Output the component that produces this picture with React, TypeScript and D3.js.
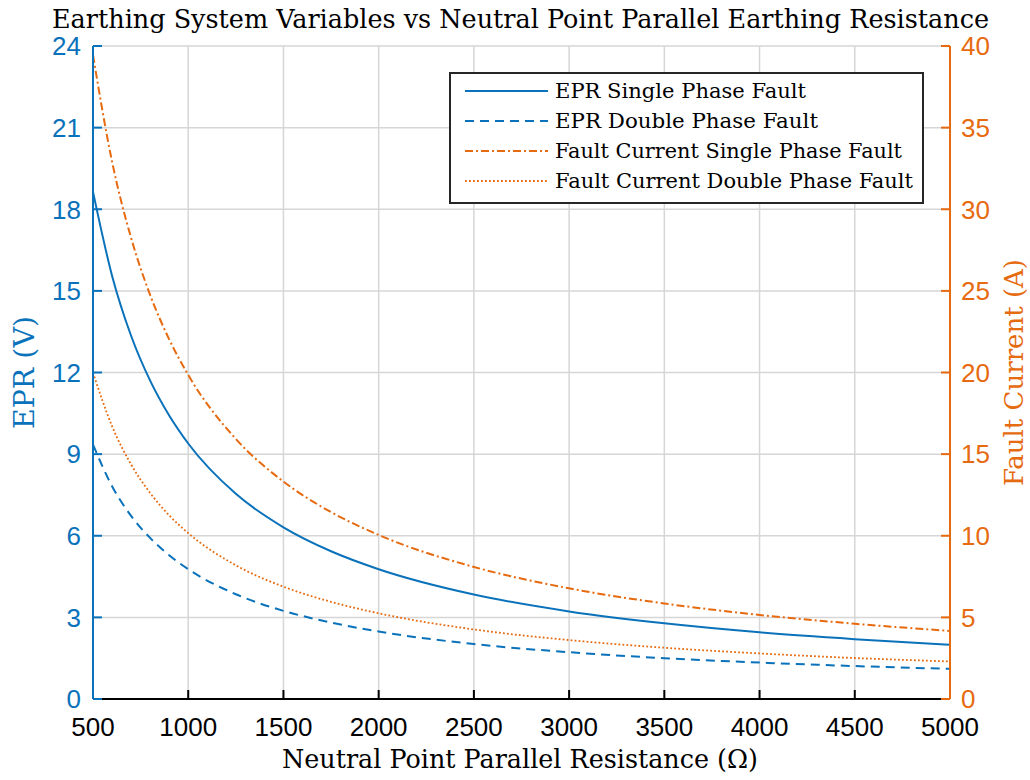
import React from "react";
import * as d3 from "d3";

const resistance = [500, 600, 700, 800, 900, 1000, 1250, 1500, 1750, 2000, 2500, 3000, 3500, 4000, 4500, 5000];
const eprSingle = [18.64, 15.56, 13.35, 11.7, 10.42, 9.39, 7.54, 6.31, 5.43, 4.77, 3.84, 3.22, 2.78, 2.45, 2.2, 1.99];
const eprDouble = [9.35, 7.82, 6.73, 5.92, 5.28, 4.77, 3.85, 3.24, 2.81, 2.48, 2.02, 1.72, 1.5, 1.34, 1.21, 1.11];
const currentSingle = [39.45, 32.92, 28.25, 24.75, 22.03, 19.85, 15.93, 13.32, 11.45, 10.05, 8.09, 6.78, 5.85, 5.15, 4.61, 4.17];
const currentDouble = [19.99, 16.71, 14.37, 12.62, 11.25, 10.16, 8.19, 6.88, 5.95, 5.25, 4.26, 3.61, 3.14, 2.79, 2.51, 2.3];

const xTicks = [500, 1000, 1500, 2000, 2500, 3000, 3500, 4000, 4500, 5000];
const leftTicks = [0, 3, 6, 9, 12, 15, 18, 21, 24];
const rightTicks = [0, 5, 10, 15, 20, 25, 30, 35, 40];

const legendLabels = [
  "EPR Single Phase Fault",
  "EPR Double Phase Fault",
  "Fault Current Single Phase Fault",
  "Fault Current Double Phase Fault",
];
const legendWidths = [251, 263, 347, 358];

const BLUE = "#0A72BA";
const ORANGE = "#E66A10";
const SERIF = "'DejaVu Serif', serif";
const SANS = "'Liberation Sans', Arial, sans-serif";

export default function App() {
  const W = 1030, H = 780;
  const L = 93, R = 950, T = 46, B = 699;
  const x = d3.scaleLinear().domain([500, 5000]).range([L, R]);
  const yL = d3.scaleLinear().domain([0, 24]).range([B, T]);
  const yR = d3.scaleLinear().domain([0, 40]).range([B, T]);

  const mkLine = (ys: number[], scale: d3.ScaleLinear<number, number>) =>
    d3.line<number>()
      .x((_, i) => x(resistance[i]))
      .y((v) => scale(v))
      .curve(d3.curveMonotoneX)(ys) || "";

  const series = [
    { d: mkLine(eprSingle, yL), color: BLUE, dash: "", w: 2 },
    { d: mkLine(eprDouble, yL), color: BLUE, dash: "9,6", w: 2 },
    { d: mkLine(currentSingle, yR), color: ORANGE, dash: "8,3,2,3", w: 2 },
    { d: mkLine(currentDouble, yR), color: ORANGE, dash: "1.8,2.2", w: 1.8 },
  ];

  const legX = 450, legY = 73, legW = 473, legH = 130;
  const rowY = [91, 121, 151, 181];
  const midY = (T + B) / 2;

  return (
    <svg width={W} height={H} style={{ position: "absolute", left: 0, top: 0, background: "#fff" }}>
      <rect x={0} y={0} width={W} height={H} fill="#fff" />
      {/* grid */}
      {xTicks.map((t) => (
        <line key={"gx" + t} x1={x(t)} x2={x(t)} y1={T} y2={B} stroke="#d6d6d6" strokeWidth={1.5} />
      ))}
      {leftTicks.map((t) => (
        <line key={"gy" + t} x1={L} x2={R} y1={yL(t)} y2={yL(t)} stroke="#d6d6d6" strokeWidth={1.5} />
      ))}
      {/* series */}
      {series.map((s, i) => (
        <path key={i} d={s.d} fill="none" stroke={s.color} strokeWidth={s.w} strokeDasharray={s.dash || undefined} />
      ))}
      {/* bottom axis */}
      <line x1={L} x2={R} y1={B} y2={B} stroke="#000" strokeWidth={2} />
      {xTicks.map((t) => (
        <g key={"xt" + t}>
          <line x1={x(t)} x2={x(t)} y1={B} y2={B - 9} stroke="#000" strokeWidth={2} />
          <text x={x(t)} y={736} textAnchor="middle" fontFamily={SANS} fontSize={26} fill="#000">{t}</text>
        </g>
      ))}
      {/* left axis */}
      <line x1={L} x2={L} y1={T} y2={B} stroke={BLUE} strokeWidth={2} />
      {leftTicks.map((t) => (
        <g key={"lt" + t}>
          <line x1={L} x2={L + 9} y1={yL(t)} y2={yL(t)} stroke={BLUE} strokeWidth={2} />
          <text x={81} y={yL(t)} dy="0.36em" textAnchor="end" fontFamily={SANS} fontSize={26} fill={BLUE}>{t}</text>
        </g>
      ))}
      {/* right axis */}
      <line x1={R} x2={R} y1={T} y2={B} stroke={ORANGE} strokeWidth={2} />
      {rightTicks.map((t) => (
        <g key={"rt" + t}>
          <line x1={R} x2={R - 9} y1={yR(t)} y2={yR(t)} stroke={ORANGE} strokeWidth={2} />
          <text x={961} y={yR(t)} dy="0.36em" textAnchor="start" fontFamily={SANS} fontSize={26} fill={ORANGE}>{t}</text>
        </g>
      ))}
      {/* titles */}
      <text x={520.5} y={28} textAnchor="middle" fontFamily={SERIF} fontSize={25.5} fill="#000"
        textLength={937} lengthAdjust="spacingAndGlyphs">
        Earthing System Variables vs Neutral Point Parallel Earthing Resistance
      </text>
      <text x={520} y={768} textAnchor="middle" fontFamily={SERIF} fontSize={25.5} fill="#000"
        textLength={476} lengthAdjust="spacingAndGlyphs">
        Neutral Point Parallel Resistance (Ω)
      </text>
      <text transform={`translate(34,${midY}) rotate(-90)`} textAnchor="middle" fontFamily={SERIF} fontSize={27} fill={BLUE}
        textLength={113} lengthAdjust="spacingAndGlyphs">
        EPR (V)
      </text>
      <text transform={`translate(1023,${midY}) rotate(-90)`} textAnchor="middle" fontFamily={SERIF} fontSize={26.5} fill={ORANGE}
        textLength={227} lengthAdjust="spacingAndGlyphs">
        Fault Current (A)
      </text>
      {/* legend */}
      <rect x={legX} y={legY} width={legW} height={legH} fill="#fff" stroke="#262626" strokeWidth={2} />
      {series.map((s, i) => (
        <g key={"lg" + i}>
          <line x1={465} x2={548} y1={rowY[i]} y2={rowY[i]} stroke={s.color} strokeWidth={s.w} strokeDasharray={s.dash || undefined} />
          <text x={555} y={rowY[i]} dy="0.35em" fontFamily={SERIF} fontSize={21} fill="#000"
            textLength={legendWidths[i]} lengthAdjust="spacingAndGlyphs">{legendLabels[i]}</text>
        </g>
      ))}
    </svg>
  );
}
